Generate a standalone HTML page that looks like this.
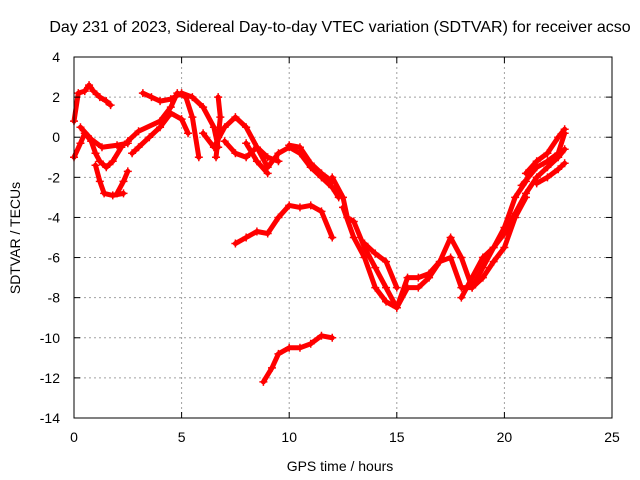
<!DOCTYPE html>
<html><head><meta charset="utf-8"><style>
body{margin:0;background:#fff}
svg{display:block;font-family:"Liberation Sans",Arial,sans-serif;font-size:14px}
</style></head><body>
<svg id="chart" width="640" height="480" viewBox="0 0 640 480">
<rect width="640" height="480" fill="#fff"/>
<text x="340" y="32" text-anchor="middle" style="font-size:16px">Day 231 of 2023, Sidereal Day-to-day VTEC variation (SDTVAR) for receiver acso</text>
<g id="grid"></g><g id="marks"></g><g id="axes"></g>
<text x="340" y="471" text-anchor="middle">GPS time / hours</text>
<text transform="translate(20,238) rotate(-90)" text-anchor="middle">SDTVAR / TECUs</text>
</svg>
<script>
const xTicks=[0,5,10,15,20,25];
const yTicks=[4,2,0,-2,-4,-6,-8,-10,-12,-14];
const track1=[[0,0.8],[0.2,2.2],[0.5,2.3],[0.7,2.6],[0.9,2.3],[1.2,2.0],[1.5,1.8],[1.7,1.6]];
const track2=[[0,-1],[0.3,-0.3],[0.5,0.2],[0.8,-0.2],[1.0,-0.8],[1.2,-1.2],[1.5,-1.5],[1.8,-1.2],[2.2,-0.5]];
const track3=[[1.0,-1.4],[1.2,-2.2],[1.4,-2.8],[1.8,-2.9],[2.3,-2.8]];
const track4=[[2.0,-2.8],[2.3,-2.2],[2.5,-1.7]];
const track5=[[0.3,0.5],[0.8,-0.1],[1.3,-0.5],[2.0,-0.4],[2.5,-0.3]];
const track6=[[2.5,-0.2],[3,0.3],[4,0.8],[4.5,1.5],[4.8,2.2],[5.2,2.0],[5.5,1.0],[5.8,-1.0]];
const track7=[[3.2,2.2],[3.6,2.0],[4,1.8],[4.5,1.9],[5,2.2],[5.5,2.0],[6,1.5],[6.5,0.5],[6.7,-0.5]];
const track8=[[2.7,-0.8],[3,-0.5],[3.5,0],[4,0.5],[4.5,1.2],[5,0.9],[5.3,0.2]];
const track9=[[6.6,-1.0],[6.7,0],[6.8,1.0],[6.7,2.0]];
const track10=[[6.0,0.2],[6.5,-0.5],[7.0,0.5],[7.5,1.0],[8,0.5],[8.5,-0.5],[9,-1.0],[9.5,-1.2]];
const track11=[[7,-0.2],[7.5,-0.8],[8,-1.0],[8.5,-0.5],[9,-1.5],[9.5,-0.8],[10,-0.5],[10.5,-0.8],[11,-1.5],[11.5,-2.0],[12,-2.5],[12.3,-3.0]];
const track12=[[8.0,-0.3],[8.5,-1.2],[9,-1.8]];
const track13=[[10,-0.4],[10.5,-0.5],[11,-1.3],[11.5,-1.8],[12,-2.2]];
const track14=[[12,-2.0],[12.5,-3.0],[12.7,-4],[13,-4.2],[13.5,-5.5],[14,-6.5],[14.5,-7.5],[15,-8.5],[15.5,-7],[16,-7],[16.5,-6.8],[17,-6.2],[17.5,-5],[18,-6],[18.5,-7.5],[19,-6.5],[19.5,-5.5],[20,-4.5],[20.5,-3],[21,-2.2]];
const track15=[[12.5,-3.5],[13,-5],[13.5,-6],[14,-7.5],[14.5,-8.2],[15,-8.5],[15.5,-7.5],[16,-7.5],[16.5,-7],[17,-6.2],[17.5,-6],[18,-7.5],[18.5,-7.5],[19,-7],[19.5,-6.2],[20,-5.5],[20.5,-4],[21,-3]];
const track16=[[13.5,-5.3],[14,-5.8],[14.5,-6.2],[15,-7.5]];
const track17=[[18,-8],[18.5,-7],[19,-6],[19.5,-5.5],[20,-4.8],[20.5,-3.8],[21,-2.8],[21.5,-2],[22,-1.5],[22.5,-1],[22.8,-0.6]];
const track18=[[20.8,-2.4],[21.5,-1.5],[22,-1.2],[22.5,-0.8],[22.8,0.2]];
const track19=[[21,-1.8],[21.5,-1.2],[22,-0.8],[22.5,0],[22.8,0.4]];
const track20=[[21.5,-2.3],[22,-2],[22.5,-1.6],[22.8,-1.3]];
const track21=[[7.5,-5.3],[8,-5],[8.5,-4.7],[9,-4.8],[9.5,-4],[10,-3.4],[10.5,-3.5],[11,-3.4],[11.5,-3.7],[12,-5]];
const track22=[[8.8,-12.2],[9.2,-11.5],[9.5,-10.8],[10,-10.5],[10.5,-10.5],[11,-10.3],[11.5,-9.9],[12,-10]];
const tracks=[track1,track2,track3,track4,track5,track6,track7,track8,track9,track10,track11,track12,track13,track14,track15,track16,track17,track18,track19,track20,track21,track22];
const L=74,R=612,T=57,B=418;
const xs=v=>L+(v-0)/(25-0)*(R-L);
const ys=v=>T+(4-v)/(4-(-14))*(B-T);
const NS="http://www.w3.org/2000/svg";
function mk(tag,attrs,parent){const e=document.createElementNS(NS,tag);for(const k in attrs)e.setAttribute(k,attrs[k]);parent.appendChild(e);return e;}
const grid=document.getElementById('grid'),axes=document.getElementById('axes'),marks=document.getElementById('marks');
xTicks.forEach(t=>{const x=xs(t);
 if(t>0&&t<25){const g=mk('line',{x1:x,x2:x,y1:T,y2:B,stroke:'#a0a0a0','stroke-dasharray':'2,3','stroke-width':1},grid);
 
 }
 const tl=mk('text',{x:x,y:B+24,'text-anchor':'middle'},axes);tl.textContent=t;
 
 
 mk('line',{x1:x,x2:x,y1:B,y2:B-6,stroke:'#000'},axes);mk('line',{x1:x,x2:x,y1:T,y2:T+6,stroke:'#000'},axes);});
yTicks.forEach(t=>{const y=ys(t);
 if(t<4&&t>-14){const g=mk('line',{x1:L,x2:R,y1:y,y2:y,stroke:'#a0a0a0','stroke-dasharray':'2,3','stroke-width':1},grid);
 
 }
 const tl=mk('text',{x:L-14,y:y+5,'text-anchor':'end'},axes);tl.textContent=t;
 
 
 mk('line',{x1:L,x2:L+6,y1:y,y2:y,stroke:'#000'},axes);mk('line',{x1:R,x2:R-6,y1:y,y2:y,stroke:'#000'},axes);});
const frame=mk('rect',{x:L,y:T,width:R-L,height:B-T,fill:'none',stroke:'#000'},axes);


tracks.forEach((tr,i)=>{
 const pl=mk('polyline',{points:tr.map(p=>xs(p[0])+','+ys(p[1])).join(' '),fill:'none',stroke:'#ff0000','stroke-width':5,'stroke-linejoin':'round','stroke-linecap':'round'},marks);
 
 
 tr.forEach(p=>{const x=xs(p[0]),y=ys(p[1]);
  const m=mk('path',{d:`M${x-4},${y}H${x+4}M${x},${y-4}V${y+4}`,stroke:'#ff0000','stroke-width':1.5},marks);
  
  });
});
</script>
</body></html>
